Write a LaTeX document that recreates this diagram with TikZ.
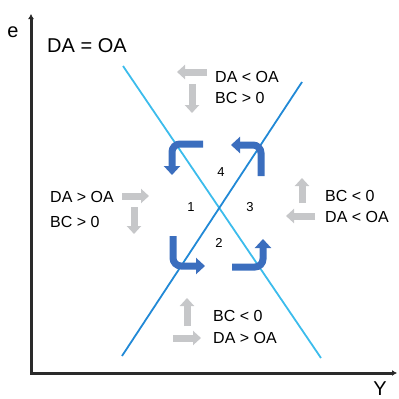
\documentclass[tikz,border=0pt]{standalone}
\usepackage{fontspec}
\setmainfont{Liberation Sans}
\usetikzlibrary{arrows.meta}
\definecolor{axisgray}{HTML}{2A2A2A}
\definecolor{demand}{HTML}{3CBCEC}
\definecolor{supply}{HTML}{2189D6}
\definecolor{turnblue}{HTML}{3B6EBE}
\definecolor{hint}{HTML}{C6C7C9}

\begin{document}
\begin{tikzpicture}[x=1pt,y=-1pt,
  axis/.style={line width=3pt,draw=axisgray,{Latex[length=5pt,width=6pt]}-{Latex[length=5pt,width=6pt]}},
  curve/.style={line width=1.8pt},
  turnarrow/.style={draw=turnblue,line width=7pt,rounded corners=8pt,-{Triangle[width=16pt,length=9pt]}},
  hintarrow/.style={draw=hint,line width=7pt,-{Triangle[width=14pt,length=8pt]}},
  lab/.style={anchor=base west,inner sep=0pt,font=\fontsize{16}{18}\selectfont},
  zone/.style={inner sep=0pt,font=\fontsize{13}{15}\selectfont}]
  \useasboundingbox (0,0) rectangle (399,399);
  % axes
  \coordinate (top) at (31,14);
  \coordinate (origin) at (31,373);
  \coordinate (right) at (397,373);
  \draw[axis] (top) -- (origin) -- (right);
  \node[anchor=base,inner sep=0pt,font=\fontsize{20}{22}\selectfont] (elab) at (13,37) {e};
  \node[anchor=base,inner sep=0pt,font=\fontsize{20}{22}\selectfont] (ylab) at (380,395) {Y};
  \node[anchor=base west,inner sep=0pt,font=\fontsize{20}{22}\selectfont] (title) at (47,52) {DA = OA};
  % the two lines
  \coordinate (dtop) at (123,66);
  \coordinate (dbot) at (321,358);
  \coordinate (sbot) at (122,356);
  \coordinate (stop) at (302,82);
  \draw[curve,demand] (dtop) -- (dbot);
  \draw[curve,supply] (sbot) -- (stop);
  % rotation around the crossing
  \draw[turnarrow] (203,144) -- (172,144) -- (172,175);
  \draw[turnarrow] (173,236) -- (173,266) -- (205,266);
  \draw[turnarrow] (232,267) -- (263,267) -- (263,239);
  \draw[turnarrow] (261,176) -- (261,145) -- (231,145);
  \foreach \x/\y/\n in {221/172/4, 191/207/1, 250/207/3, 219/243/2}
    \node[zone] (zone\n) at (\x,\y) {\n};
  % gray hints
  \foreach \xa/\ya/\xb/\yb in {
    207/72/177/72, 192/84/192/113,
    122/196/149/196, 134/207/134/234,
    302/203/302/178, 315/216/286/216,
    187/326/187/298, 173/338/201/338}
    \draw[hintarrow] (\xa,\ya) -- (\xb,\yb);
  \node[lab] (tA) at (215,82) {DA < OA};
  \node[lab] (tB) at (215,103) {BC > 0};
  \node[lab] (lA) at (50,202) {DA > OA};
  \node[lab] (lB) at (50,227) {BC > 0};
  \node[lab] (rB) at (325,201) {BC < 0};
  \node[lab] (rA) at (325,222) {DA < OA};
  \node[lab] (bB) at (213,321) {BC < 0};
  \node[lab] (bA) at (213,343) {DA > OA};
\end{tikzpicture}
\end{document}
